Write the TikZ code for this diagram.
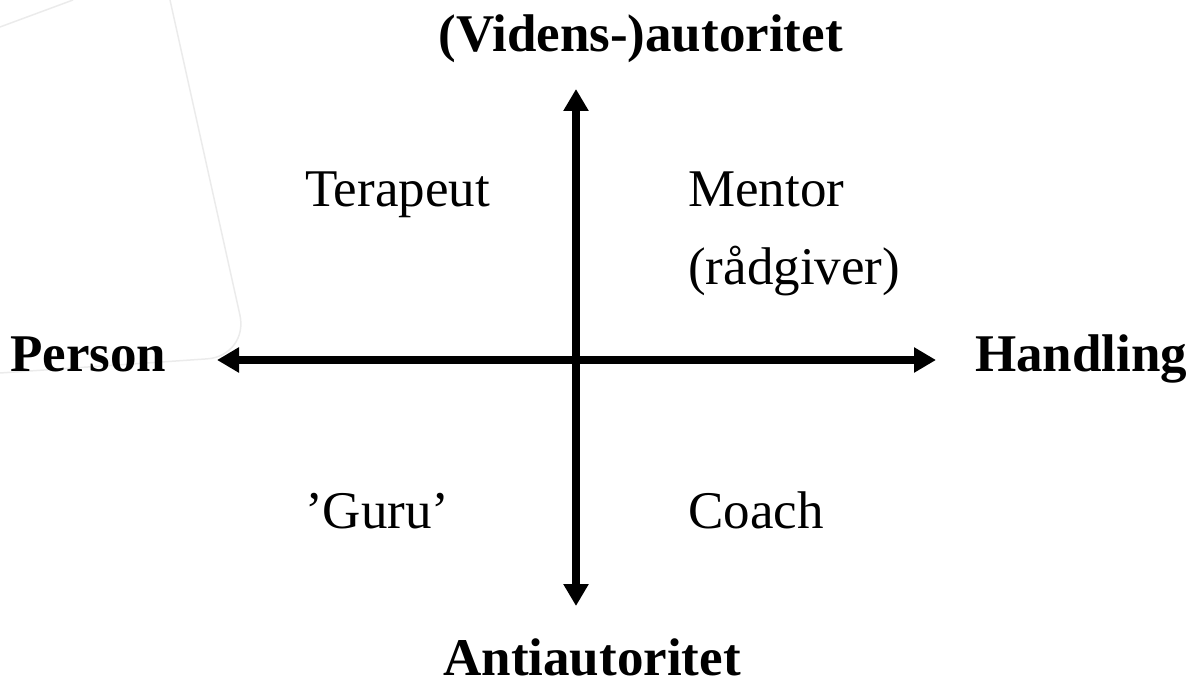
\documentclass[tikz,border=0pt]{standalone}
\usepackage{fontspec}
\setmainfont{Liberation Serif}
\usetikzlibrary{arrows.meta}
\begin{document}
\begin{tikzpicture}[x=1pt,y=-1pt,
  lbl/.style={inner sep=0pt,font=\fontsize{53}{62}\selectfont},
  ttl/.style={lbl,font=\fontsize{53}{62}\selectfont\bfseries},
  axisline/.style={line width=8pt,{Triangle[length=22pt,width=24pt]}-{Triangle[length=22pt,width=24pt]}},
  ghost/.style={draw=black!8,line width=1.5pt}]
\useasboundingbox (0,0) rectangle (1193,684);
% faint background shape
\draw[ghost] (0,27) -- (73,0);
\draw[ghost,rounded corners=42pt] (170,0) -- (249,356) -- (0,373);
% axes end points
\coordinate (top) at (576,89);
\coordinate (bottom) at (576,606);
\coordinate (left) at (217,360);
\coordinate (right) at (936,360);
\draw[axisline] (bottom) -- (top);
\draw[axisline] (left) -- (right);
% titles
\node[ttl,anchor=base] (auth) at (640.5,52) {(Videns-)autoritet};
\node[ttl,anchor=base] (anti) at (592,675) {Antiautoritet};
\node[ttl,anchor=base west] (person) at (10,371) {Person};
\node[ttl,anchor=base west] (hand) at (975,371) {Handling};
% quadrants
\node[lbl,anchor=base west] (ter) at (305,207) {Terapeut};
\node[lbl,anchor=base west] (men) at (688,207) {Mentor};
\node[lbl,anchor=base west] (rad) at (688,285) {(rådgiver)};
\node[lbl,anchor=base west] (guru) at (305,528) {’Guru’};
\node[lbl,anchor=base west] (coach) at (688,528) {Coach};
\end{tikzpicture}
\end{document}
